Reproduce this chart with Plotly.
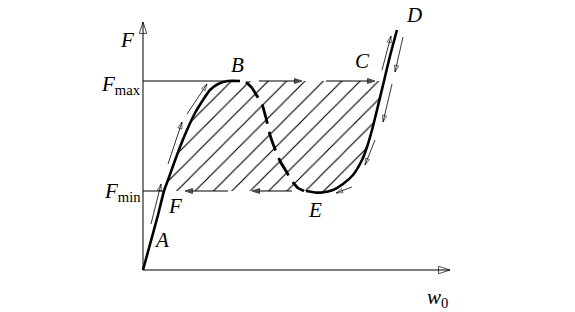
import plotly.graph_objects as go

# ---- data (w0 / F units, origin at A) ----
F_max = 189
F_min = 79

# loading branch A -> F -> B
w_load = [0, 15, 21, 25, 30, 37, 44, 52, 60, 67, 75, 85, 97]
F_load = [0, 55, 79, 90, 104, 123, 140, 157, 170, 180, 186, 189, 189]

# unloading branch B -> E (dashed)
w_unload = [103, 109, 114, 119, 123, 127, 132, 137, 143, 149, 155, 161]
F_unload = [188, 182, 174, 166, 152, 135, 121, 109, 99, 89, 82, 79]

# reloading branch E -> C -> D
w_reload = [163, 172, 179, 190, 200, 210, 219, 224, 229, 234, 241, 247, 254]
F_reload = [79, 77.5, 77.5, 80, 86, 95, 110, 123, 140, 160, 189, 214, 240]

# extent of axes
w_axis_end = 307
F_axis_end = 248

# guide segments on F_max (solid then arrowed) and F_min
w_fmax_solid = [0, 97]
w_fmin_solid = [0, 22]
fmax_arrows = [(116, 159), (183, 232)]          # tail -> head (rightwards)
fmin_arrows = [(85, 42), (149, 109)]            # tail -> head (leftwards)

# small thin arrows along the curves: (w_tail, F_tail, w_head, F_head)
side_arrows = [
    (8, 46, 18, 86),
    (25, 106, 39, 148),
    (44, 156, 64, 186),
    (239, 200, 248, 234),
    (260, 233, 252, 198),
    (249, 186, 240, 148),
    (232, 130, 222, 105),
    (209, 83, 193, 77),
]

# labels
label_text = ["<i>F</i>", "<i>F</i><sub>max</sub>", "<i>F</i><sub>min</sub>", "<i>B</i>",
              "<i>C</i>", "<i>D</i>", "<i>E</i>", "<i>F</i>", "<i>A</i>", "<i>w</i><sub>0</sub>"]
label_w = [-16, 0, 0, 94, 219, 271, 172, 32, 18, 294]
label_F = [230, 185, 78, 205, 209, 255, 60, 64, 30, -28]
label_anchor = ["center", "right", "right", "center", "center", "center", "center", "center", "center", "center"]

# ---- hatched region polygon built from branches ----
hw, hF = [], []
for w, f in zip(w_load, F_load):
    if f >= F_min:
        hw.append(w); hF.append(f)
top = [(w, f) for w, f in zip(w_reload, F_reload) if f <= F_max]
for w, f in reversed(top):
    hw.append(w); hF.append(f)
hw.append(hw[0]); hF.append(hF[0])

fig = go.Figure()

fig.add_trace(go.Scatter(
    x=hw, y=hF, mode="lines", fill="toself",
    line=dict(width=0, color="rgba(0,0,0,0)"),
    fillcolor="rgba(0,0,0,0)",
    fillpattern=dict(shape="/", size=13, solidity=0.09, fgcolor="black",
                     bgcolor="rgba(0,0,0,0)", fillmode="replace"),
    hoverinfo="skip"))

fig.add_trace(go.Scatter(x=w_fmax_solid, y=[F_max, F_max], mode="lines",
                         line=dict(color="black", width=1), hoverinfo="skip"))
fig.add_trace(go.Scatter(x=w_fmin_solid, y=[F_min, F_min], mode="lines",
                         line=dict(color="black", width=1), hoverinfo="skip"))

fig.add_trace(go.Scatter(x=w_load, y=F_load, mode="lines",
                         line=dict(color="black", width=2.6, shape="spline", smoothing=0.6),
                         hoverinfo="skip"))
fig.add_trace(go.Scatter(x=w_unload, y=F_unload, mode="lines",
                         line=dict(color="black", width=2.8, dash="20px,8px",
                                   shape="spline", smoothing=0.5),
                         hoverinfo="skip"))
fig.add_trace(go.Scatter(x=w_reload, y=F_reload, mode="lines",
                         line=dict(color="black", width=2.6, shape="spline", smoothing=0.6),
                         hoverinfo="skip"))


def arrow(xt, yt, xh, yh, symbol, size, lw):
    fig.add_trace(go.Scatter(
        x=[xt, xh], y=[yt, yh], mode="lines+markers",
        line=dict(color="black", width=lw),
        marker=dict(symbol=["circle", symbol], size=[0, size], color="black",
                    angleref="previous", line=dict(color="black", width=lw)),
        hoverinfo="skip"))

# axes
arrow(0, 0, w_axis_end, 0, "arrow-open", 12, 1.0)
arrow(0, 0, 0, F_axis_end, "arrow-open", 12, 1.0)

for t, h in fmax_arrows:
    arrow(t, F_max, h, F_max, "arrow", 8, 1.0)
for t, h in fmin_arrows:
    arrow(t, F_min, h, F_min, "arrow", 8, 1.0)
for (a, b, c, d) in side_arrows:
    arrow(a, b, c, d, "arrow-open", 7, 0.8)

annotations = []
for txt, x, y, anc in zip(label_text, label_w, label_F, label_anchor):
    annotations.append(dict(x=x, y=y, xref="x", yref="y", text=txt, showarrow=False,
                            xanchor=anc, yanchor="middle",
                            font=dict(family="Liberation Serif", size=21, color="black")))

fig.update_layout(
    width=575, height=312,
    margin=dict(l=0, r=0, t=0, b=0),
    paper_bgcolor="white", plot_bgcolor="white",
    showlegend=False,
    xaxis=dict(range=[-143, 432], visible=False, fixedrange=True),
    yaxis=dict(range=[-42, 270], visible=False, fixedrange=True),
    annotations=annotations,
)

fig.write_html("out.html")
